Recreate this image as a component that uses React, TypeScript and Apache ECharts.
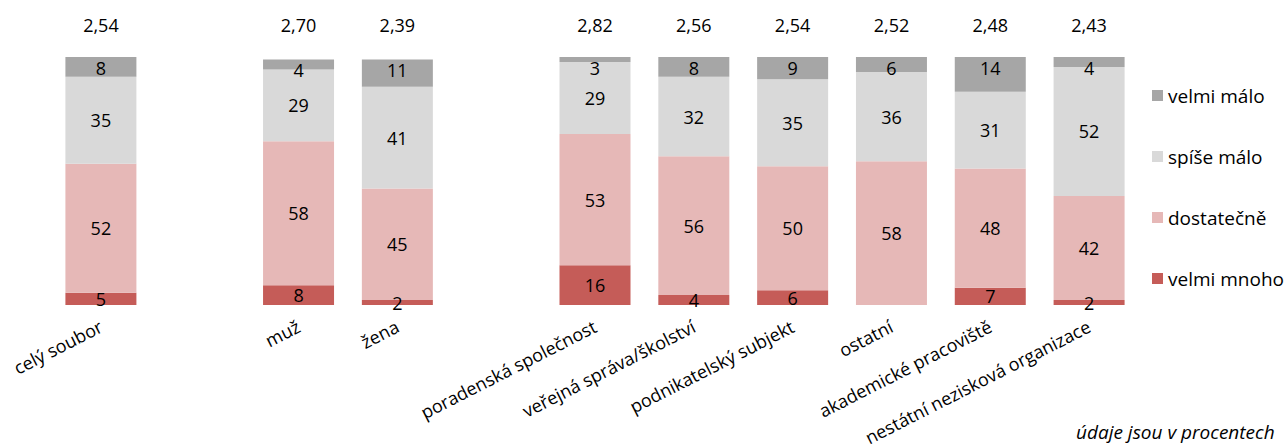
import React, { useEffect, useRef } from "react";
import * as echarts from "echarts";

const categories = [
  "celý soubor",
  " ",
  "muž",
  "žena",
  "  ",
  "poradenská společnost",
  "veřejná správa/školství",
  "podnikatelský subjekt",
  "ostatní",
  "akademické pracoviště",
  "nestátní nezisková organizace",
];
const averages = ["2,54", "", "2,70", "2,39", "", "2,82", "2,56", "2,54", "2,52", "2,48", "2,43"];

const velmiMnoho = [5, null, 8, 2, null, 16, 4, 6, 0, 7, 2];
const dostatecne = [52, null, 58, 45, null, 53, 56, 50, 58, 48, 42];
const spiseMalo = [35, null, 29, 41, null, 29, 32, 35, 36, 31, 52];
const velmiMalo = [8, null, 4, 11, null, 3, 8, 9, 6, 14, 4];

const seriesNames = ["velmi mnoho", "dostatečně", "spíše málo", "velmi málo"];
const seriesColors = ["#C55C58", "#E6B8B7", "#D9D9D9", "#A6A6A6"];
const FONT = "'Open Sans', sans-serif";

export default function App() {
  const ref = useRef<HTMLDivElement>(null);
  useEffect(() => {
    if (!ref.current) return;
    const chart = echarts.init(ref.current, null, { renderer: "svg" });
    const dataSets = [velmiMnoho, dostatecne, spiseMalo, velmiMalo];
    chart.setOption({
      animation: false,
      textStyle: { fontFamily: FONT },
      grid: { left: 51.5, right: 146.5, top: 57, bottom: 142, containLabel: false },
      legend: {
        orient: "vertical",
        left: 1147,
        top: 81,
        itemGap: 42,
        itemWidth: 11,
        itemHeight: 11,
        icon: "rect",
        data: ["velmi málo", "spíše málo", "dostatečně", "velmi mnoho"],
        textStyle: { fontFamily: FONT, fontSize: 19, color: "#000" },
      },
      xAxis: [
        {
          type: "category",
          data: categories,
          position: "bottom",
          axisLine: { show: false },
          axisTick: { show: false },
          axisLabel: {
            interval: 0,
            rotate: 27,
            margin: 20,
            fontFamily: FONT,
            fontSize: 18,
            color: "#000",
          },
        },
        {
          type: "category",
          data: averages,
          position: "top",
          axisLine: { show: false },
          axisTick: { show: false },
          axisLabel: {
            interval: 0,
            margin: 23,
            fontFamily: FONT,
            fontSize: 18,
            color: "#000",
          },
        },
      ],
      yAxis: {
        type: "value",
        min: 0,
        max: 100,
        show: false,
        splitLine: { show: false },
      },
      series: dataSets.map((d, i) => ({
        name: seriesNames[i],
        type: "bar",
        stack: "total",
        xAxisIndex: 0,
        barWidth: 71,
        data: d,
        itemStyle: { color: seriesColors[i] },
        label: {
          show: true,
          position: i === 3 ? "insideTop" : "inside",
          distance: i === 3 ? 2 : 5,
          fontFamily: FONT,
          fontSize: 18,
          color: "#000",
          formatter: (p: any) => (p.value ? String(p.value) : ""),
        },
      })),
      graphic: [
        {
          type: "text",
          left: 1076,
          top: 422,
          style: {
            text: "údaje jsou v procentech",
            fontFamily: FONT,
            fontStyle: "italic",
            fontSize: 19,
            fill: "#000",
          },
        },
      ],
    });
    return () => chart.dispose();
  }, []);
  return <div ref={ref} style={{ width: 1285, height: 448, position: "absolute", left: 0, top: 0 }} />;
}
